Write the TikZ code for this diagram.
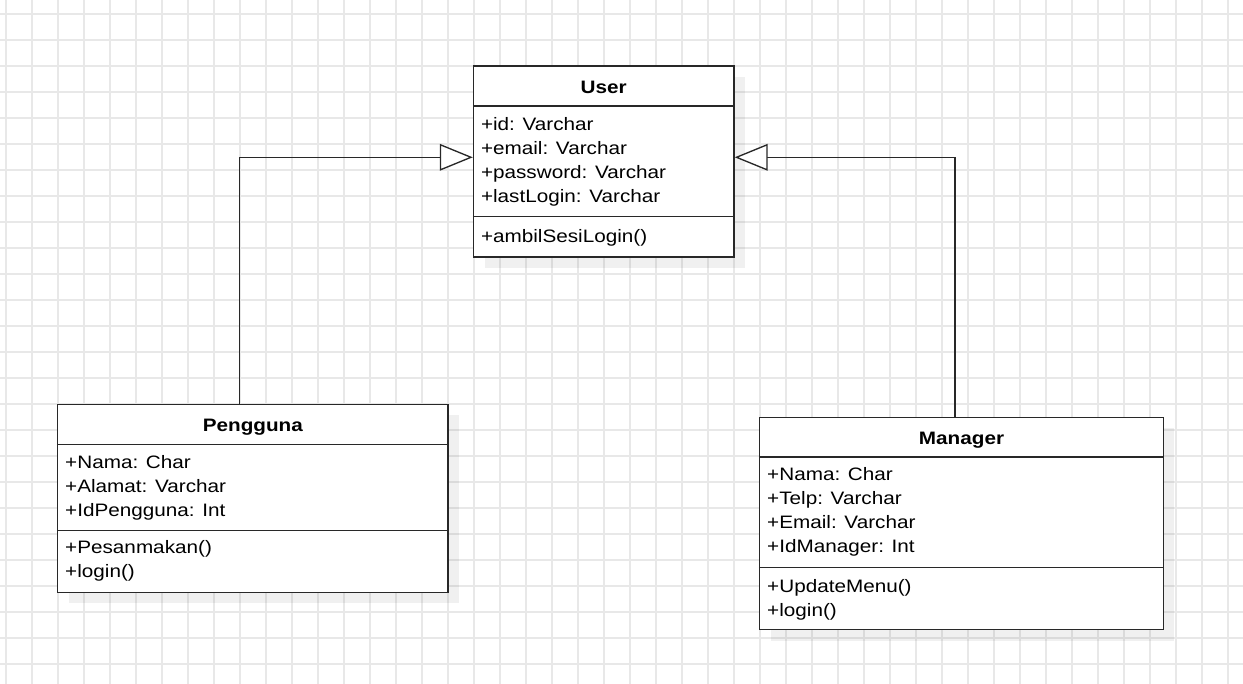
\documentclass[tikz,border=0pt]{standalone}
\usepackage{fontspec}
\setmainfont{Liberation Sans}[FakeStretch=1.15]
\usetikzlibrary{positioning, fit, calc, shadows, arrows.meta}
\definecolor{grid2}{RGB}{232, 232, 232}
\definecolor{line2}{RGB}{40, 40, 40}
\tikzset{
classbox/.style={draw=line2, line width=1.1pt, fill=white, inner sep=0pt,
	drop shadow={shadow xshift=8.25pt, shadow yshift=-8.25pt, fill=black, opacity=0.06}},
classname/.style={font=\fontsize{13.5}{16}\selectfont\bfseries, anchor=base, inner sep=0pt},
member/.style={font=\fontsize{13.5}{16}\selectfont, anchor=base west, inner sep=0pt},
separator/.style={draw=line2, line width=1.1pt},
generalize/.style={draw=line2, line width=1pt,
	-{Triangle[length=24.75pt, width=20pt, fill=white]}},
gridline/.style={draw=grid2, line width=0.9pt},
}

\begin{document}
\begin{tikzpicture}[x=0.75pt, y=-0.75pt]
\useasboundingbox (0,0) rectangle (1243,684);
%Background grid
\foreach \gx in {6,32,...,1242} \draw[gridline] (\gx,0) -- (\gx,684);
\foreach \gy in {14,40,...,684} \draw[gridline] (0,\gy) -- (1243,\gy);

%Place the classes
\node[classbox, fit={(473.5,66) (734,257)}] (user) {};
\node[classbox, fit={(57.7,404.3) (448,592.3)}] (pengguna) {};
\node[classbox, fit={(759.7,417.3) (1163.3,629.7)}] (manager) {};

%User
\node[classname] (usertitle) at ($(user.north)+(0,28)$) {User};
\draw[separator] ($(user.north west)+(0,40.7)$) -- ($(user.north east)+(0,40.7)$);
\draw[separator] ($(user.north west)+(0,151)$) -- ($(user.north east)+(0,151)$);
\foreach \txt [count=\i] in {+id: Varchar, +email: Varchar, +password: Varchar, +lastLogin: Varchar}
	\node[member] (userattr\i) at ($(user.north west)+(8,41+24*\i)$) {\txt};
\node[member] (usermeth1) at ($(user.north west)+(8,177)$) {+ambilSesiLogin()};

%Pengguna
\node[classname] (penggunatitle) at ($(pengguna.north)+(0,27.6)$) {Pengguna};
\draw[separator] ($(pengguna.north west)+(0,40.7)$) -- ($(pengguna.north east)+(0,40.7)$);
\draw[separator] ($(pengguna.north west)+(0,126.7)$) -- ($(pengguna.north east)+(0,126.7)$);
\foreach \txt [count=\i] in {+Nama: Char, +Alamat: Varchar, +IdPengguna: Int}
	\node[member] (penggunaattr\i) at ($(pengguna.north west)+(8,40.7+24*\i)$) {\txt};
\foreach \txt [count=\i] in {+Pesanmakan(), +login()}
	\node[member] (penggunameth\i) at ($(pengguna.north west)+(8,126+24*\i)$) {\txt};

%Manager
\node[classname] (managertitle) at ($(manager.north)+(0,27.7)$) {Manager};
\draw[separator] ($(manager.north west)+(0,40.4)$) -- ($(manager.north east)+(0,40.4)$);
\draw[separator] ($(manager.north west)+(0,151)$) -- ($(manager.north east)+(0,151)$);
\foreach \txt [count=\i] in {+Nama: Char, +Telp: Varchar, +Email: Varchar, +IdManager: Int}
	\node[member] (managerattr\i) at ($(manager.north west)+(8,40.4+24*\i)$) {\txt};
\foreach \txt [count=\i] in {+UpdateMenu(), +login()}
	\node[member] (managermeth\i) at ($(manager.north west)+(8,152+24*\i)$) {\txt};

%Generalizations
\draw[generalize] ([xshift=-9.86pt]pengguna.north) |- ([yshift=3.15pt]user.west);
\draw[generalize] ([xshift=-4.9pt]manager.north) |- ([yshift=3.15pt]user.east);

\end{tikzpicture}
\end{document}
